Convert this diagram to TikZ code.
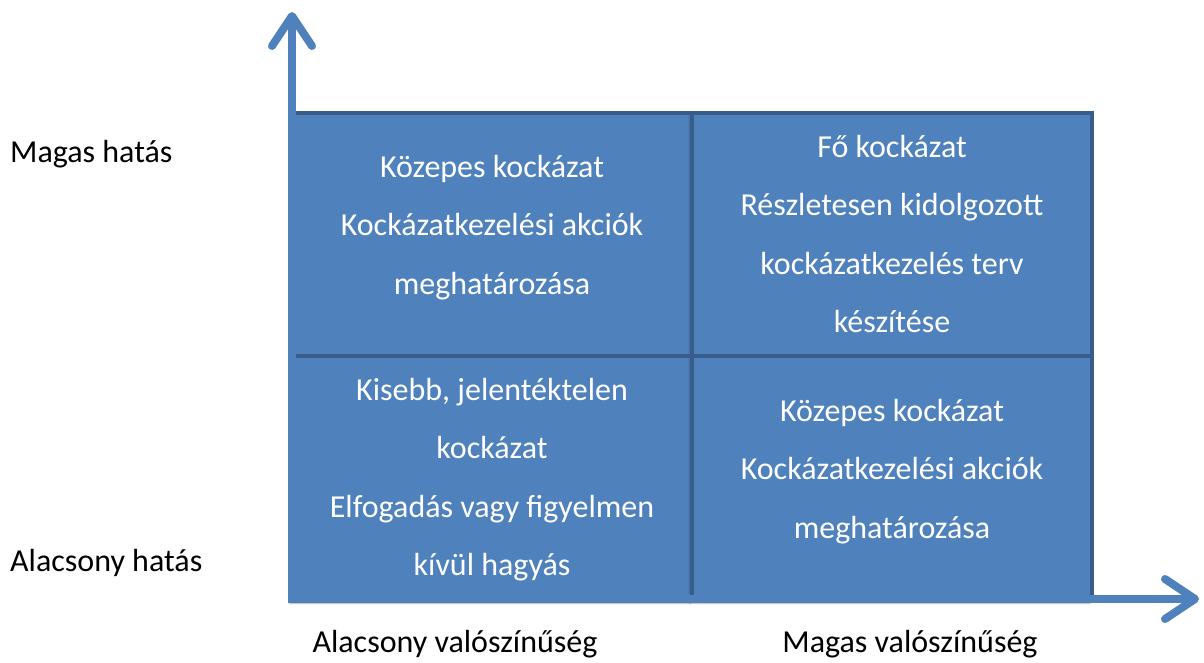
\documentclass[tikz,border=0pt]{standalone}
\usepackage{fontspec}
\setmainfont{Carlito}
\usetikzlibrary{arrows.meta,shadows.blur}
\definecolor{cellfill}{HTML}{4F81BD}
\definecolor{cellline}{HTML}{385D8A}
\definecolor{axiscol}{HTML}{4F81BD}
\tikzset{
  cell/.style={rectangle, draw=cellline, fill=cellfill, line width=4pt,
    minimum width=400pt, minimum height=243pt, inner sep=0pt, outer sep=0pt,
    blur shadow={shadow xshift=-2pt, shadow yshift=-4pt, shadow blur steps=6, shadow opacity=35}},
  celltext/.style={text=white, text width=400pt, align=flush center, anchor=base,
    inner sep=0pt, font=\fontsize{32}{58.5}\selectfont},
  axislabel/.style={text=black, inner sep=0pt, anchor=base, font=\fontsize{32}{38}\selectfont},
  axis/.style={draw=axiscol, line width=8pt,
    -{Straight Barb[length=30pt, width=40pt, round]}}
}
\begin{document}
\begin{tikzpicture}[x=1pt, y=-1pt]
\useasboundingbox (0,0) rectangle (1204,662);
% cells
\node[cell] (tl) at (492,234.5) {};
\node[cell] (tr) at (892,234.5) {};
\node[cell] (bl) at (492,477.5) {};
\node[cell] (br) at (892,477.5) {};
% cell texts
\node[celltext] (tltext) at (492,177) {Közepes kockázat\\Kockázatkezelési akciók\\meghatározása};
\node[celltext] (trtext) at (892,157) {Fő kockázat\\Részletesen kidolgozott\\kockázatkezelés terv\\készítése};
\node[celltext] (bltext) at (492,400) {Kisebb, jelentéktelen\\kockázat\\Elfogadás vagy figyelmen\\kívül hagyás};
\node[celltext] (brtext) at (892,421) {Közepes kockázat\\Kockázatkezelési akciók\\meghatározása};
% axes
\coordinate (xstart) at (288,599);
\coordinate (ystart) at (292,603);
\coordinate (ytip) at (292,12);
\coordinate (xtip) at (1199,599);
\draw[axis] (ystart) -- (ytip);
\draw[axis] (xstart) -- (xtip);
% axis labels
\node[axislabel, anchor=base west] (hi) at (10,162) {Magas hatás};
\node[axislabel, anchor=base west] (lo) at (10,571) {Alacsony hatás};
\node[axislabel] (xlo) at (455,652) {Alacsony valószínűség};
\node[axislabel] (xhi) at (910,652) {Magas valószínűség};
\end{tikzpicture}
\end{document}
